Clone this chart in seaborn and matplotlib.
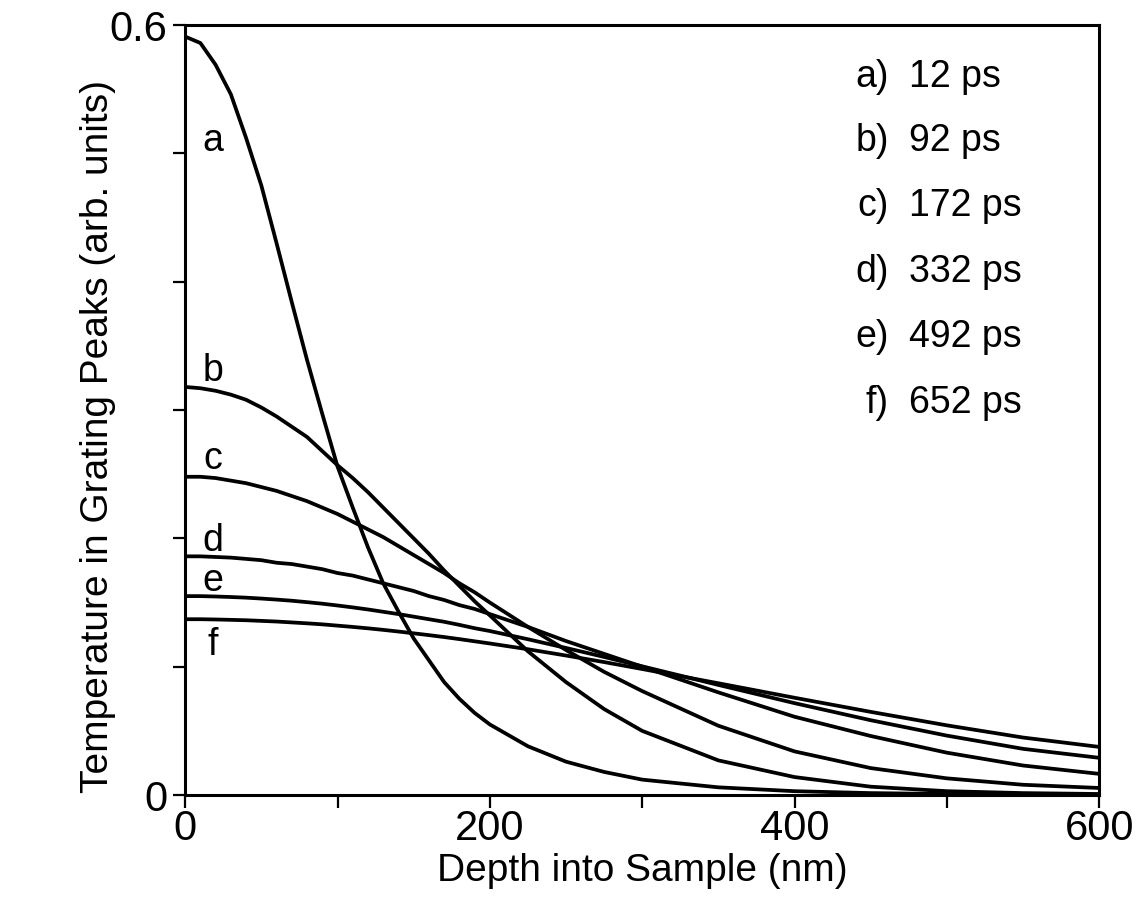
import pandas as pd
import seaborn as sns
import matplotlib
matplotlib.use("Agg")
import matplotlib.pyplot as plt


### Values

# depth into sample (nm) where the curves were read
depth = [0, 10, 20, 30, 40, 50, 60, 70, 80, 90, 100, 110, 120, 130, 140, 150,
         160, 170, 180, 190, 200, 225, 250, 275, 300, 350, 400, 450, 500, 550, 600]

# temperature in grating peaks (arb. units), one list per delay
temp_a = [0.591, 0.586, 0.569, 0.546, 0.512, 0.475, 0.430, 0.384, 0.339, 0.297,
          0.256, 0.224, 0.193, 0.165, 0.143, 0.122, 0.105, 0.088, 0.075, 0.064,
          0.055, 0.038, 0.026, 0.018, 0.012, 0.006, 0.003, 0.0015, 0.0008, 0.0004, 0.0002]
temp_b = [0.318, 0.317, 0.315, 0.312, 0.308, 0.302, 0.295, 0.287, 0.279, 0.268,
          0.257, 0.247, 0.236, 0.224, 0.212, 0.200, 0.188, 0.175, 0.163, 0.151,
          0.140, 0.112, 0.088, 0.067, 0.050, 0.027, 0.014, 0.0065, 0.003, 0.0015, 0.0008]
temp_c = [0.248, 0.248, 0.247, 0.245, 0.243, 0.240, 0.237, 0.233, 0.229, 0.224,
          0.219, 0.213, 0.207, 0.201, 0.194, 0.187, 0.180, 0.173, 0.165, 0.158,
          0.150, 0.131, 0.113, 0.096, 0.081, 0.054, 0.034, 0.021, 0.013, 0.008, 0.0055]
temp_d = [0.186, 0.186, 0.1855, 0.185, 0.184, 0.183, 0.181, 0.180, 0.178, 0.176,
          0.173, 0.171, 0.168, 0.165, 0.162, 0.159, 0.155, 0.152, 0.148, 0.145,
          0.141, 0.131, 0.120, 0.110, 0.100, 0.080, 0.061, 0.046, 0.033, 0.023, 0.0165]
temp_e = [0.155, 0.155, 0.1547, 0.1543, 0.1538, 0.1531, 0.1523, 0.1514, 0.1503, 0.1491,
          0.1477, 0.1462, 0.1446, 0.1428, 0.141, 0.139, 0.137, 0.135, 0.1326, 0.130,
          0.1278, 0.1214, 0.1146, 0.1076, 0.1003, 0.0858, 0.0716, 0.0583, 0.0463, 0.036, 0.029]
temp_f = [0.137, 0.137, 0.1368, 0.1365, 0.1362, 0.1357, 0.1352, 0.1345, 0.1338, 0.133,
          0.132, 0.131, 0.1299, 0.1287, 0.1274, 0.126, 0.1246, 0.1231, 0.1215, 0.1198,
          0.1181, 0.1136, 0.1087, 0.1036, 0.0982, 0.0871, 0.0758, 0.0648, 0.0543, 0.0448, 0.0375]

curve_keys = ["a", "b", "c", "d", "e", "f"]
delays_ps = ["12", "92", "172", "332", "492", "652"]

# where the small curve letters sit (temperature at baseline)
letter_y = [0.502, 0.323, 0.254, 0.190, 0.159, 0.109]
# baselines of the delay list in the upper right corner
list_y = [0.552, 0.502, 0.451, 0.400, 0.349, 0.298]


# long-form table for seaborn
series = [temp_a, temp_b, temp_c, temp_d, temp_e, temp_f]
df = pd.concat(
    [pd.DataFrame({"depth": depth, "temp": s, "curve": k}) for k, s in zip(curve_keys, series)],
    ignore_index=True,
)


### Plot

sns.set_theme(style="ticks")
plt.rcParams["font.family"] = ["Liberation Sans", "DejaVu Sans"]
plt.rcParams["text.color"] = "black"
plt.rcParams["axes.labelcolor"] = "black"
plt.rcParams["xtick.color"] = "black"
plt.rcParams["ytick.color"] = "black"

fig = plt.figure(figsize=(11.36, 9.11), dpi=100)
ax = fig.add_axes([0.163, 0.1273, 0.8046, 0.8452])

sns.lineplot(data=df, x="depth", y="temp", hue="curve", sort=False, estimator=None,
             palette=["black"] * 6, linewidth=2.7, legend=False, ax=ax)

ax.set_xlim(0, 600)
ax.set_ylim(0, 0.6)

# only the ends and every 200 nm carry labels, other ticks are bare
ax.set_xticks([0, 200, 400, 600])
ax.set_xticks([100, 300, 500], minor=True)
ax.set_yticks([0, 0.6])
ax.set_yticklabels(["0", "0.6"])
ax.set_yticks([0.1, 0.2, 0.3, 0.4, 0.5], minor=True)
ax.tick_params(which="both", direction="out", length=9, width=1.6,
               labelsize=30, top=False, right=False)
ax.tick_params(axis="x", pad=1)
ax.tick_params(axis="y", pad=4)

for side in ["left", "right", "top", "bottom"]:
    ax.spines[side].set_visible(True)
    ax.spines[side].set_linewidth(2.2)
    ax.spines[side].set_color("black")

ax.set_xlabel("Depth into Sample (nm)", fontsize=28, labelpad=3)
ax.set_ylabel("Temperature in Grating Peaks (arb. units)", fontsize=28)
# the scanned label sits a little below the middle of the axis
ax.yaxis.set_label_coords(-0.076, 0.465)

# letters next to each curve near the surface
for k, y in zip(curve_keys, letter_y):
    ax.text(18, y, k, fontsize=27, ha="center", va="baseline")

# delay list
for k, t, y in zip(curve_keys, delays_ps, list_y):
    ax.text(462, y, k + ")", fontsize=27, ha="right", va="baseline")
    ax.text(475, y, t + " ps", fontsize=27, ha="left", va="baseline")

fig.savefig("out.png", dpi=100, facecolor="white")
